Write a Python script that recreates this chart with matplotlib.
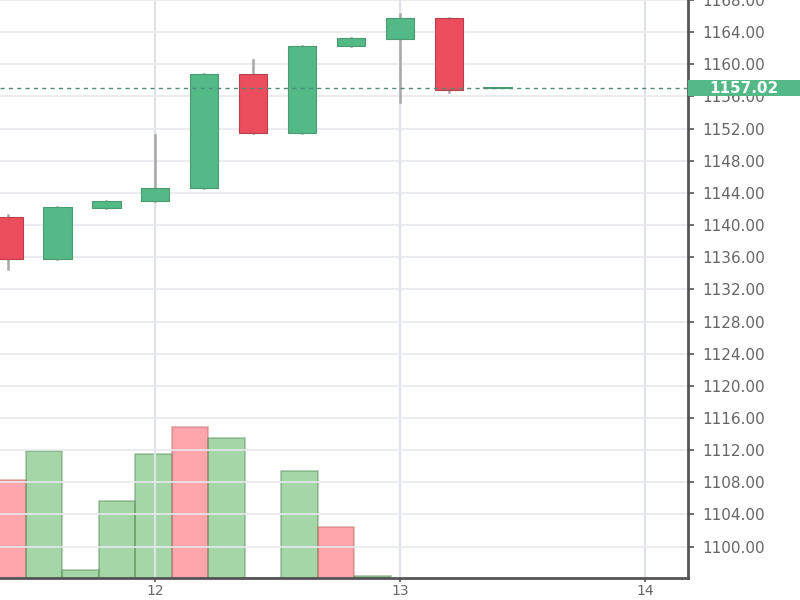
import numpy as np
import matplotlib
matplotlib.use('Agg')
import matplotlib.pyplot as plt
from matplotlib.patches import Rectangle


# day of month for each candle
days=[11.4,11.6,11.8,12.0,12.2,12.4,12.6,12.8,13.0,13.2,13.4]

opens =[1141.0,1135.8,1142.1,1143.0,1144.6,1158.8,1151.4,1162.3,1163.2,1165.8,1157.02]
closes=[1135.8,1142.2,1143.0,1144.6,1158.8,1151.4,1162.3,1163.3,1165.8,1156.8,1157.02]
highs =[1141.3,1142.2,1143.0,1151.2,1158.8,1160.5,1162.3,1163.3,1166.3,1165.8,1157.02]
lows  =[1134.6,1135.8,1142.1,1143.0,1144.6,1151.4,1151.4,1162.3,1155.3,1156.5,1157.02]

volumes=[3920,5080,320,3080,4960,6040,5600,0,4280,2040,80]

last_price=1157.02
price_ticks=[1100,1104,1108,1112,1116,1120,1124,1128,1132,1136,1140,
             1144,1148,1152,1156,1160,1164,1168]
day_ticks=[12,13,14]

up_c='#53b987'
down_c='#eb4d5c'
grid_c='#e6e9ee'
txt_c='#666666'


def main():

    fig=plt.figure(figsize=(8,6),dpi=100)
    pos=[0,22/600,688/800,578/600]

    # volume bars sit on their own axes, own x scale
    vx=fig.add_axes(pos)
    idx=np.arange(len(volumes))
    vcol=['#4caf50' if c>=o else '#ff4d5a' for o,c in zip(opens,closes)]
    ecol=['#5b8f5b' if c>=o else '#c06a6a' for o,c in zip(opens,closes)]
    vx.bar(idx,volumes,width=1.0,color=vcol,alpha=0.5,edgecolor=ecol,lw=1.2)
    vx.set_xlim(-0.205,18.64)
    vx.set_ylim(0,23120)
    vx.axis('off')

    ax=fig.add_axes(pos)
    ax.set_facecolor('none')
    ax.set_xlim(11.367,14.176)
    ax.set_ylim(1096.1,1167.7)

    w=0.118
    for d,o,c,h,l in zip(days,opens,closes,highs,lows):
        col=up_c if c>=o else down_c
        ax.plot([d,d],[l,h],c='#a8a8a8',lw=1.8,zorder=2)
        lo=min(o,c)
        ht=max(abs(c-o),0.12)
        ax.add_patch(Rectangle((d-w/2,lo),w,ht,facecolor=col,
                               edgecolor='#4a9a72' if c>=o else '#b8404c',
                               lw=0.8,zorder=3))

    ax.axhline(last_price,ls=(0,(3,3)),c='#4e8d7b',lw=1,zorder=4)

    ax.yaxis.tick_right()
    ax.set_yticks(price_ticks)
    ax.set_yticklabels(['%.2f'%v for v in price_ticks])
    ax.set_xticks(day_ticks)
    ax.set_xticklabels([str(d) for d in day_ticks])
    ax.tick_params(axis='y',colors='#555555',labelcolor=txt_c,labelsize=11,
                   length=4,width=1.2,pad=6)
    ax.tick_params(axis='x',colors='#555555',labelcolor=txt_c,labelsize=10,
                   length=3,width=1.2,pad=1)
    ax.grid(True,axis='y',color=grid_c,lw=1.2,zorder=0)
    ax.grid(True,axis='x',color='#dde2e8',lw=1.6,zorder=0)

    for s in ['left','top']:
        ax.spines[s].set_visible(False)
    for s in ['right','bottom']:
        ax.spines[s].set_color('#555555')
        ax.spines[s].set_linewidth(2)

    # last price badge on the price scale
    badge=Rectangle((1.0,last_price-1.0),0.163,2.0,
                    transform=ax.get_yaxis_transform(),fc=up_c,ec='none',
                    zorder=9,clip_on=False)
    ax.add_patch(badge)
    ax.text(1.081,last_price,'%.2f'%last_price,transform=ax.get_yaxis_transform(),
            ha='center',va='center',color='white',fontsize=11,fontweight='bold',
            zorder=10,clip_on=False)

    fig.savefig('out.png',dpi=100)


if __name__ == '__main__':
    main()
